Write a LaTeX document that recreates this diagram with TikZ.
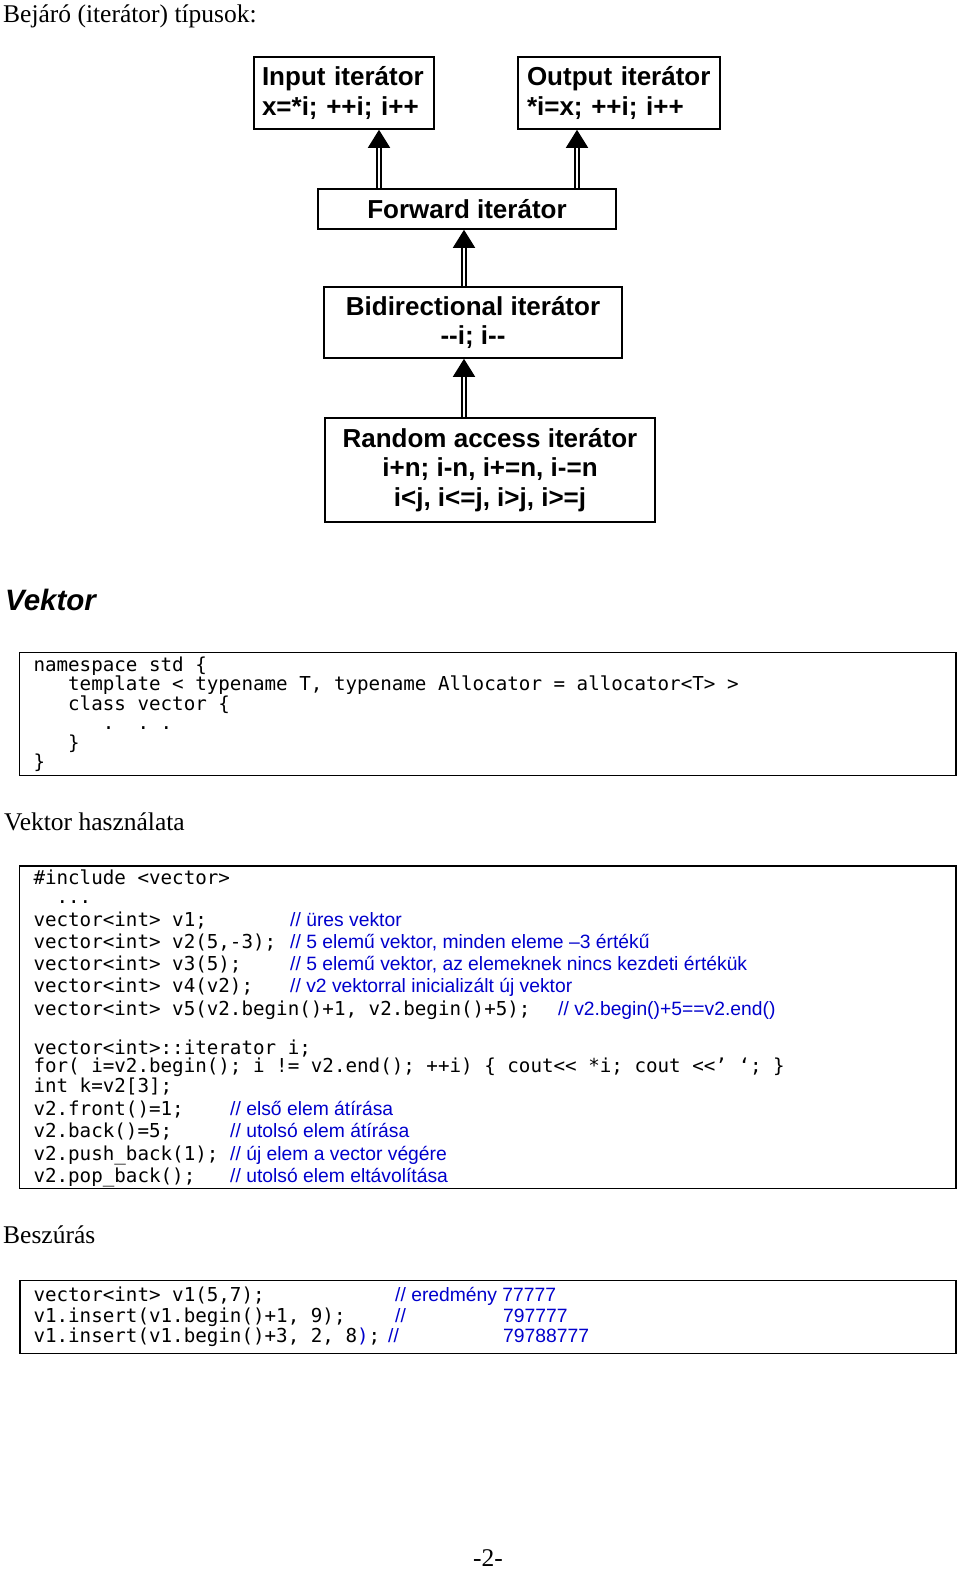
\documentclass[tikz,border=0pt]{standalone}
\usepackage{fontspec}
\setmainfont{Liberation Serif}
\setsansfont{Liberation Sans}
\setmonofont{DejaVu Sans Mono}
\usetikzlibrary{arrows.meta}
\definecolor{noteblue}{RGB}{0,0,204}
\newcommand{\headfont}{\rmfamily\fontsize{25.5}{30}\selectfont}
\newcommand{\boxfont}{\sffamily\bfseries\fontsize{26}{29.5}\selectfont}
\newcommand{\codefont}{\ttfamily\fontsize{19.2}{19.5}\selectfont\frenchspacing}
\newcommand{\notefont}{\sffamily\fontsize{19.3}{22}\selectfont}
\tikzset{
    itbox/.style={draw, line width=1.6pt, font=\boxfont, inner sep=0pt}, % iterator kinds
    codebox/.style={draw, line width=1.6pt, inner sep=0pt}, % frames round the code
    code/.style={anchor=base west, inner sep=0pt, font=\codefont},
    note/.style={anchor=base west, inner sep=0pt, font=\notefont, text=noteblue},
    heading/.style={anchor=base west, inner sep=0pt, font=\headfont},
    refines/.style={double, line width=1.7pt, double distance=2.4pt, -{Triangle[length=18pt, width=22pt]}},
}

\begin{document}
\begin{tikzpicture}[x=1pt, y=-1pt]
    \useasboundingbox (0,0) rectangle (960,1577);

    \node[heading] (title) at (3,22.5) {Bejáró (iterátor) típusok:};

    % iterator kinds
    \node[itbox, minimum width=180pt, minimum height=72pt, text width=164pt, align=left] (in) at (344,93) {Input iterátor\\x=*i; ++i; i++};
    \node[itbox, minimum width=202pt, minimum height=72pt, text width=184pt, align=left] (out) at (619,93) {Output iterátor\\{*}i=x; ++i; i++};
    \node[itbox, minimum width=298pt, minimum height=40pt, align=center] (fwd) at (467,209) {Forward iterátor};
    \node[itbox, minimum width=298pt, minimum height=71pt, align=center] (bidi) at (473,322.5) {Bidirectional iterátor\\-{}-i; i-{}-};
    \node[itbox, minimum width=330pt, minimum height=104pt, align=center] (rand) at (490,470) {Random access iterátor\\i+n; i-n, i+=n, i-=n\\i<j, i<=j, i>j, i>=j};

    \draw[refines] ([xshift=35pt]in.south |- fwd.north) -- ([xshift=35pt]in.south);
    \draw[refines] ([xshift=-42pt]out.south |- fwd.north) -- ([xshift=-42pt]out.south);
    \draw[refines] ([xshift=-3pt]fwd.south |- bidi.north) -- ([xshift=-3pt]fwd.south);
    \draw[refines] ([xshift=-9pt]bidi.south |- rand.north) -- ([xshift=-9pt]bidi.south);

    % vector declaration
    \node[heading, font=\sffamily\bfseries\itshape\fontsize{29.5}{33}\selectfont] (vek) at (5,610) {Vektor};
    \node[codebox, minimum width=936.5pt, minimum height=123pt] (decl) at (487.75,714) {};
    \node[code] (d1) at (33.3,671) {namespace std \{};
    \node[code] (d2) at (33.3,690.5) {\ \ \ template < typename T, typename Allocator = allocator<T> >};
    \node[code] (d3) at (33.3,710) {\ \ \ class vector \{};
    \node[code] (d4) at (33.3,729.5) {\ \ \ \ \ \ .\ \ .\ .};
    \node[code] (d5) at (33.3,749) {\ \ \ \}};
    \node[code] (d6) at (33.3,768.5) {\}};

    % usage
    \node[heading] (hasz) at (4,830) {Vektor használata};
    \node[codebox, minimum width=936.5pt, minimum height=322.5pt] (use) at (487.75,1027.25) {};
    \node[code] (u1) at (33.3,884.5) {\#include <vector>};
    \node[code] (u2) at (33.3,903) {\ \ ...};
    \node[code] (u3) at (33.3,926) {vector<int> v1;};
    \node[note] (n3) at (290,926) {// üres vektor};
    \node[code] (u4) at (33.3,948) {vector<int> v2(5,-3);};
    \node[note] (n4) at (290,948) {// 5 elemű vektor, minden eleme –3 értékű};
    \node[code] (u5) at (33.3,970.5) {vector<int> v3(5);};
    \node[note] (n5) at (290,970.5) {// 5 elemű vektor, az elemeknek nincs kezdeti értékük};
    \node[code] (u6) at (33.3,992.5) {vector<int> v4(v2);};
    \node[note] (n6) at (290,992.5) {// v2 vektorral inicializált új vektor};
    \node[code] (u7) at (33.3,1015) {vector<int> v5(v2.begin()+1, v2.begin()+5);};
    \node[note] (n7) at (558,1015) {// v2.begin()+5==v2.end()};
    \node[code] (u8) at (33.3,1054) {vector<int>::iterator i;};
    \node[code] (u9) at (33.3,1072.7) {for( i=v2.begin(); i != v2.end(); ++i) \{ cout<< *i; cout <<’ ‘; \}};
    \node[code] (u10) at (33.3,1092.3) {int k=v2[3];};
    \node[code] (u11) at (33.3,1115.7) {v2.front()=1;};
    \node[note] (n11) at (230,1115.7) {// első elem átírása};
    \node[code] (u12) at (33.3,1137.3) {v2.back()=5;};
    \node[note] (n12) at (230,1137.3) {// utolsó elem átírása};
    \node[code] (u13) at (33.3,1160) {v2.push\_back(1);};
    \node[note] (n13) at (230,1160) {// új elem a vector végére};
    \node[code] (u14) at (33.3,1182) {v2.pop\_back();};
    \node[note] (n14) at (230,1182) {// utolsó elem eltávolítása};

    % insert
    \node[heading] (besz) at (3,1243) {Beszúrás};
    \node[codebox, minimum width=936pt, minimum height=73pt] (ins) at (488,1317) {};
    \node[code] (i1) at (33.3,1301.5) {vector<int> v1(5,7);};
    \node[note] (m1) at (395,1301.5) {// eredmény 77777};
    \node[code] (i2) at (33.3,1322) {v1.insert(v1.begin()+1, 9);};
    \node[note] (m2) at (395,1322) {//};
    \node[note] (r2) at (503,1322) {797777};
    \node[code] (i3) at (33.3,1342.5) {v1.insert(v1.begin()+3, 2, 8\textcolor{noteblue}{)};};
    \node[note] (m3) at (388,1342.5) {//};
    \node[note] (r3) at (503,1342.5) {79788777};

    \node[heading, anchor=base] (page) at (488,1566) {-2-};
\end{tikzpicture}
\end{document}
